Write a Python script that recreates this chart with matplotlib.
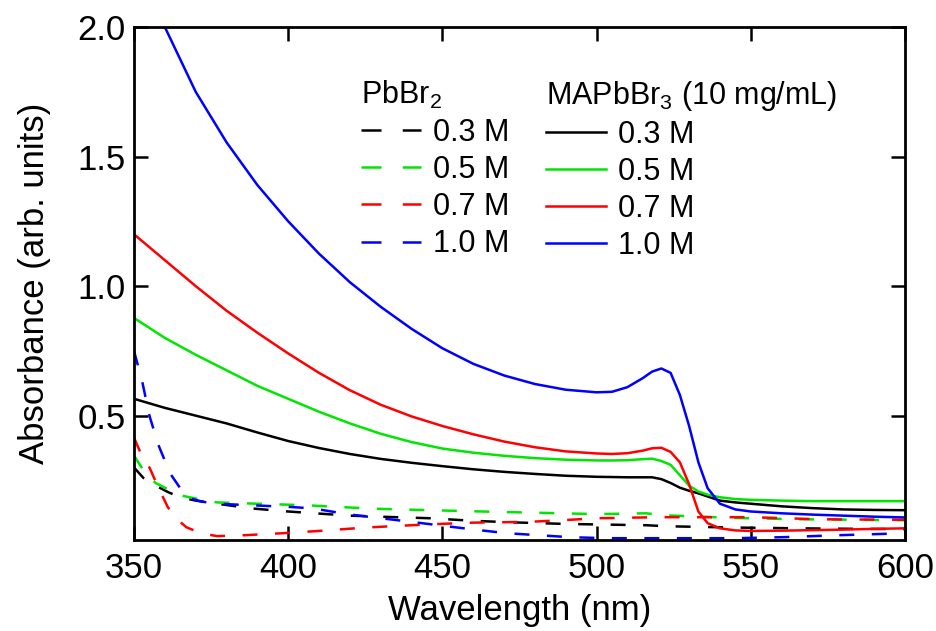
import matplotlib
matplotlib.use("Agg")
import matplotlib.pyplot as plt
from matplotlib.lines import Line2D

# Absorbance spectra
# MAPbBr3 (10 mg/mL) films, solid lines
wl_solid = [350, 360, 370, 380, 390, 400, 410, 420, 430, 440, 450, 460, 470, 480, 490,
            500, 505, 510, 515, 518, 521, 524, 527, 530, 533, 536, 540, 545, 550,
            560, 570, 580, 590, 600]
mapbbr3_03 = [0.565, 0.53, 0.50, 0.47, 0.435, 0.402, 0.375, 0.352, 0.333, 0.318, 0.305,
              0.293, 0.283, 0.275, 0.268, 0.264, 0.263, 0.262, 0.262, 0.262, 0.255, 0.24,
              0.222, 0.21, 0.20, 0.188, 0.172, 0.165, 0.16, 0.15, 0.143, 0.138, 0.136, 0.135]
mapbbr3_05 = [0.877, 0.80, 0.735, 0.675, 0.615, 0.565, 0.515, 0.47, 0.43, 0.398, 0.373,
              0.357, 0.345, 0.336, 0.33, 0.327, 0.327, 0.328, 0.332, 0.334, 0.325, 0.31,
              0.27, 0.23, 0.207, 0.195, 0.185, 0.178, 0.175, 0.172, 0.17, 0.17, 0.17, 0.17]
mapbbr3_07 = [1.20, 1.10, 1.00, 0.905, 0.82, 0.74, 0.665, 0.598, 0.542, 0.497, 0.46,
              0.428, 0.40, 0.378, 0.362, 0.354, 0.352, 0.355, 0.365, 0.374, 0.376, 0.36,
              0.32, 0.235, 0.13, 0.085, 0.065, 0.057, 0.055, 0.056, 0.058, 0.06, 0.063, 0.065]
mapbbr3_10 = [2.38, 2.00, 1.75, 1.555, 1.39, 1.25, 1.125, 1.015, 0.92, 0.835, 0.76,
              0.70, 0.655, 0.622, 0.60, 0.59, 0.592, 0.61, 0.645, 0.67, 0.682, 0.665,
              0.58, 0.46, 0.32, 0.22, 0.16, 0.138, 0.13, 0.123, 0.118, 0.114, 0.11, 0.107]

# PbBr2 precursor films, dashed lines
wl_pb_03 = [350, 353, 357, 361, 365, 370, 377, 388, 400, 410, 420, 435, 446, 460, 473,
            490, 516, 523, 545, 566, 585, 600]
pbbr2_03 = [0.30, 0.26, 0.23, 0.205, 0.185, 0.172, 0.16, 0.142, 0.13, 0.122, 0.114, 0.108,
            0.104, 0.094, 0.088, 0.082, 0.077, 0.073, 0.068, 0.065, 0.063, 0.062]
wl_pb_05 = [350, 353, 357, 362, 366, 372, 377, 390, 406, 419, 430, 446, 470, 500, 516,
            523, 545, 566, 585, 600]
pbbr2_05 = [0.346, 0.29, 0.24, 0.21, 0.19, 0.175, 0.165, 0.16, 0.154, 0.146, 0.14, 0.135,
            0.128, 0.12, 0.123, 0.115, 0.105, 0.10, 0.098, 0.096]
wl_pb_07 = [350, 352, 355, 358, 361, 364, 367, 372, 377, 385, 398, 410, 425, 445, 460,
            478, 490, 500, 520, 550, 572, 600]
pbbr2_07 = [0.415, 0.36, 0.30, 0.22, 0.146, 0.10, 0.069, 0.045, 0.035, 0.038, 0.046, 0.055,
            0.068, 0.08, 0.087, 0.09, 0.097, 0.104, 0.108, 0.108, 0.10, 0.098]
wl_pb_10 = [350, 352.6, 355, 357.8, 361.7, 367, 372, 377, 388, 400, 408, 419, 430, 440,
            450, 462, 471, 482, 491, 503, 523, 545, 561, 577, 600]
pbbr2_10 = [0.75, 0.635, 0.50, 0.39, 0.277, 0.185, 0.168, 0.16, 0.154, 0.148, 0.142, 0.12,
            0.104, 0.09, 0.075, 0.058, 0.046, 0.038, 0.031, 0.027, 0.027, 0.027, 0.031,
            0.038, 0.046]

conc_labels = ["0.3 M", "0.5 M", "0.7 M", "1.0 M"]
colors = ["black", "#00e600", "#ff0000", "#0000ff"]

plt.rcParams["font.family"] = ["Liberation Sans", "DejaVu Sans"]
plt.rcParams["mathtext.fontset"] = "custom"
plt.rcParams["mathtext.rm"] = "Liberation Sans"
plt.rcParams["mathtext.default"] = "regular"

fig = plt.figure(figsize=(9.37, 6.31), dpi=100)
ax = fig.add_axes([134 / 937, 1 - 540 / 631, (905 - 134) / 937, (540 - 27) / 631])

lw = 1.8
dash = (0, (6, 7))
dashed_series = [(wl_pb_03, pbbr2_03), (wl_pb_05, pbbr2_05),
                 (wl_pb_07, pbbr2_07), (wl_pb_10, pbbr2_10)]
solid_series = [mapbbr3_03, mapbbr3_05, mapbbr3_07, mapbbr3_10]

for (wl, ab), c in zip(dashed_series, colors):
    ax.plot(wl, ab, color=c, lw=lw, linestyle=dash)

solid_handles = []
for ab, c, lab in zip(solid_series, colors, conc_labels):
    h, = ax.plot(wl_solid, ab, color=c, lw=lw, label=lab)
    solid_handles.append(h)

# legend proxies: the legend shows two long dashes per entry
dashed_handles = [Line2D([], [], color=c, lw=lw, linestyle=(0, (8, 8.5))) for c in colors]

ax.set_xlim(350, 600)
ax.set_ylim(0.02, 2.0)
ax.set_xticks([350, 400, 450, 500, 550, 600])
ax.set_yticks([0.5, 1.0, 1.5, 2.0])
ax.set_yticklabels(["0.5", "1.0", "1.5", "2.0"])

ax.tick_params(direction="in", top=True, right=True, length=10, width=1.8,
               labelsize=25)
ax.tick_params(axis="x", pad=9)
ax.tick_params(axis="y", pad=6)
for sp in ax.spines.values():
    sp.set_linewidth(2)

ax.set_xlabel("Wavelength (nm)", fontsize=25, labelpad=6)
ax.set_ylabel("Absorbance (arb. units)", fontsize=25, labelpad=19)

# two side-by-side legends with titles
leg_kw = dict(loc="upper left", bbox_transform=fig.transFigure, frameon=False,
              fontsize=22, title_fontsize=22, borderpad=0, borderaxespad=0,
              handlelength=1.95, handletextpad=0.4, labelspacing=0.23,
              alignment="left")
leg1 = ax.legend(dashed_handles, conc_labels, title="PbBr$_2$",
                 bbox_to_anchor=(361 / 937, 1 - 79 / 631), **leg_kw)
ax.add_artist(leg1)
leg2 = ax.legend(solid_handles, conc_labels, title="MAPbBr$_3$ (10 mg/mL)",
                 bbox_to_anchor=(546 / 937, 1 - 79 / 631), **leg_kw)

fig.savefig("out.png", dpi=100)
plt.close(fig)
